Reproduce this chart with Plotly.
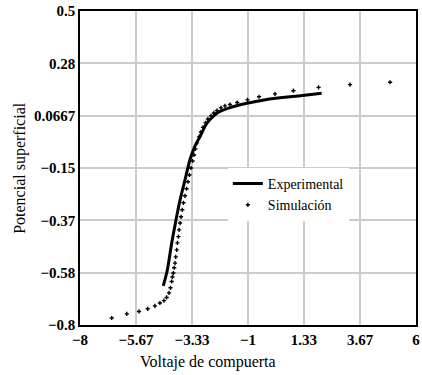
import plotly.graph_objects as go

# Experimental (solid line)
exp_x = [-4.53, -4.36, -4.18, -4.00, -3.83, -3.625, -3.42, -3.21, -3.00, -2.72,
         -2.30, -1.75, -1.05, -0.22, 0.75, 1.45, 2.07]
exp_y = [-0.638, -0.572, -0.461, -0.365, -0.282, -0.199, -0.116, -0.059, -0.020, 0.035,
         0.077, 0.100, 0.118, 0.134, 0.145, 0.152, 0.159]

# Simulación (markers)
sim_x = [-6.68, -6.05, -5.54, -5.18, -4.88, -4.67, -4.50, -4.39, -4.29, -4.23,
         -4.18, -4.15, -4.11, -4.075, -4.04, -4.01, -3.97, -3.94, -3.90, -3.87,
         -3.83, -3.79, -3.74, -3.69, -3.625, -3.56, -3.50, -3.44, -3.375, -3.31,
         -3.25, -3.19, -3.125, -3.04, -2.96, -2.875, -2.77, -2.67, -2.54, -2.42,
         -2.29, -2.125, -1.96, -1.75, -1.45, -1.02, -0.54, 0.125, 0.89, 1.94,
         3.25, 4.92]
sim_y = [-0.771, -0.754, -0.744, -0.733, -0.721, -0.709, -0.699, -0.686, -0.667, -0.646,
         -0.620, -0.601, -0.585, -0.563, -0.544, -0.518, -0.489, -0.460, -0.434, -0.406,
         -0.378, -0.352, -0.323, -0.294, -0.265, -0.236, -0.207, -0.179, -0.150, -0.121,
         -0.096, -0.071, -0.046, -0.021, -0.001, 0.018, 0.037, 0.053, 0.066, 0.078,
         0.088, 0.099, 0.107, 0.113, 0.121, 0.132, 0.145, 0.157, 0.170, 0.184,
         0.195, 0.205]

x_tickvals = [-8, -5.667, -3.333, -1, 1.333, 3.667, 6]
x_ticktext = ["\u22128", "\u22125.67", "\u22123.33", "\u22121", "1.33", "3.67", "6"]
y_tickvals = [0.5, 0.2833, 0.0667, -0.15, -0.3667, -0.5833, -0.8]
y_ticktext = ["0.5", "0.28", "0.0667", "\u22120.15", "\u22120.37", "\u22120.58", "\u22120.8"]

serif = "Times New Roman, Liberation Serif, serif"

fig = go.Figure()
fig.add_trace(go.Scatter(x=exp_x, y=exp_y, mode="lines", name="Experimental",
                         line=dict(color="black", width=3, shape="spline", smoothing=0.6)))
fig.add_trace(go.Scatter(x=sim_x, y=sim_y, mode="markers", name="Simulación",
                         marker=dict(symbol="cross", size=3.5, color="black")))

fig.update_layout(
    width=422, height=375,
    margin=dict(l=80, r=6, t=11, b=50, autoexpand=False),
    paper_bgcolor="white", plot_bgcolor="white",
    font=dict(family=serif, size=13, color="black"),
    showlegend=True,
    legend=dict(x=0.44, y=0.50, xanchor="left", yanchor="top",
                bgcolor="white", borderwidth=0,
                font=dict(family=serif, size=14, color="black"),
                tracegroupgap=0, itemwidth=30),
    xaxis=dict(range=[-8, 6], tickvals=x_tickvals,
               ticktext=["<b>%s</b>" % t for t in x_ticktext],
               showgrid=True, gridcolor="#cccccc", gridwidth=1.5,
               showline=True, linecolor="black", linewidth=1.5, mirror=True,
               zeroline=False, ticks="", automargin=False,
               tickfont=dict(family=serif, size=15, color="black")),
    yaxis=dict(range=[-0.8, 0.5], tickvals=y_tickvals,
               ticktext=["<b>%s</b>" % t for t in y_ticktext],
               showgrid=True, gridcolor="#cccccc", gridwidth=1.5,
               showline=True, linecolor="black", linewidth=1.5, mirror=True,
               zeroline=False, ticks="", automargin=False,
               tickfont=dict(family=serif, size=15, color="black")),
    annotations=[
        dict(text="Voltaje de compuerta", xref="paper", yref="paper",
             x=0.381, y=-0.118, xanchor="center", yanchor="middle", showarrow=False,
             font=dict(family=serif, size=16, color="black")),
        dict(text="Potencial superficial", xref="paper", yref="paper",
             x=-0.179, y=0.5, xanchor="center", yanchor="middle", showarrow=False,
             textangle=-90, font=dict(family=serif, size=16, color="black")),
    ],
)

fig.write_html("out.html")
